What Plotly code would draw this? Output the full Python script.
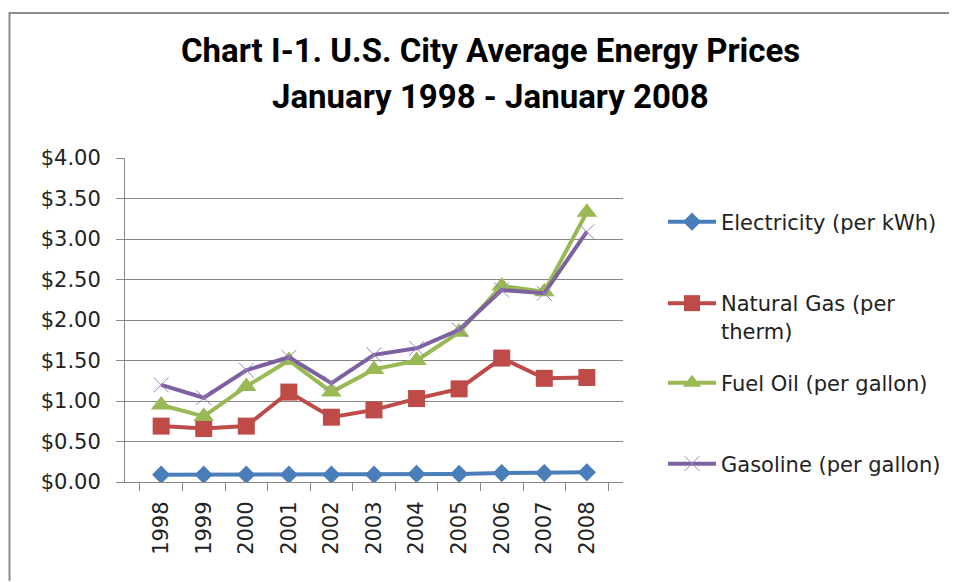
import plotly.graph_objects as go

years = ["1998", "1999", "2000", "2001", "2002", "2003", "2004", "2005", "2006", "2007", "2008"]
electricity = [0.09, 0.09, 0.09, 0.09, 0.09, 0.09, 0.10, 0.10, 0.11, 0.11, 0.12]
natural_gas = [0.69, 0.66, 0.69, 1.11, 0.80, 0.89, 1.03, 1.15, 1.53, 1.28, 1.29]
fuel_oil = [0.95, 0.81, 1.18, 1.50, 1.11, 1.39, 1.50, 1.85, 2.42, 2.35, 3.33]
gasoline = [1.20, 1.04, 1.38, 1.54, 1.22, 1.57, 1.65, 1.88, 2.37, 2.33, 3.09]

names = ["Electricity (per kWh)", "Natural Gas (per<br>therm)", "Fuel Oil (per gallon)", "Gasoline (per gallon)"]
title_lines = ["Chart I-1. U.S. City Average Energy Prices", "January 1998 - January 2008"]

TITLE_FONT = "Roboto, Lato, sans-serif"
TEXT_FONT = "DejaVu Sans, sans-serif"
GRID = "#868686"

# page body has an 8px margin; the figure starts at (8, 8) on screen.
OFF = 8
W, H = 957 - OFF, 582 - OFF
P_LEFT, P_RIGHT, P_TOP, P_BOTTOM = 125, 623, 158, 482  # screen px of plot area
ML = P_LEFT - OFF
MR = W - (P_RIGHT - OFF)
MT = P_TOP - OFF
MB = H - (P_BOTTOM - OFF)
PW = P_RIGHT - P_LEFT
PH = P_BOTTOM - P_TOP

def sx(px):
    return (px - P_LEFT) / PW

def sy(py):
    return (P_BOTTOM - py) / PH

fig = go.Figure()

fig.add_trace(go.Scatter(
    x=years, y=electricity, name=names[0], mode="lines+markers",
    line=dict(color="#4A7EBB", width=4),
    marker=dict(symbol="diamond", size=14, color="#4A7EBB"),
    legend="legend",
))
fig.add_trace(go.Scatter(
    x=years, y=natural_gas, name=names[1], mode="lines+markers",
    line=dict(color="#BE4B48", width=4),
    marker=dict(symbol="square", size=17, color="#BE4B48"),
    legend="legend2",
))
fig.add_trace(go.Scatter(
    x=years, y=fuel_oil, name=names[2], mode="lines+markers",
    line=dict(color="#98B954", width=4),
    marker=dict(symbol="triangle-up", size=18, color="#98B954"),
    legend="legend3",
))
fig.add_trace(go.Scatter(
    x=years, y=gasoline, name=names[3], mode="lines+markers",
    line=dict(color="#7D60A0", width=4),
    marker=dict(symbol="x-thin", size=15, color="#7D60A0",
                line=dict(color="#9A84C0", width=1)),
    legend="legend4",
))

leg_common = dict(
    xanchor="left", font=dict(family=TEXT_FONT, size=21, color="#222222"),
    bgcolor="rgba(0,0,0,0)", borderwidth=0, itemwidth=48, valign="top",
)
lx = sx(663)

bx0, by0 = sx(9.5), sy(581)
bx1, by1 = sx(956), sy(13)
border_path = f"M {bx0},{by0} L {bx0},{by1} L {bx1},{by1}"

fig.update_layout(
    width=W, height=H, showlegend=True,
    margin=dict(l=ML, r=MR, t=MT, b=MB, autoexpand=False),
    paper_bgcolor="white", plot_bgcolor="white",
    xaxis=dict(
        type="category", showline=True, linecolor=GRID, linewidth=1,
        ticks="outside", ticklen=8, tickcolor=GRID, tickson="boundaries",
        tickangle=-90, showgrid=False, automargin=False, ticklabelstandoff=10,
        tickfont=dict(family=TEXT_FONT, size=21, color="#222222"),
    ),
    yaxis=dict(
        range=[0, 4], dtick=0.5, tickprefix="$", tickformat=".2f",
        showline=True, linecolor=GRID, linewidth=1, automargin=False,
        ticks="outside", ticklen=8, tickcolor=GRID, ticklabelstandoff=11,
        showgrid=True, gridcolor=GRID, gridwidth=1, zeroline=False,
        tickfont=dict(family=TEXT_FONT, size=21, color="#222222"),
    ),
    legend=dict(x=lx, y=sy(222), yanchor="middle", **leg_common),
    legend2=dict(x=lx, y=sy(317), yanchor="middle", **leg_common),
    legend3=dict(x=lx, y=sy(383), yanchor="middle", **leg_common),
    legend4=dict(x=lx, y=sy(464), yanchor="middle", **leg_common),
    annotations=[
        dict(text=title_lines[0], xref="paper", yref="paper",
             x=sx(490), y=sy(50), xanchor="center", yanchor="middle",
             showarrow=False, font=dict(family=TITLE_FONT, size=33, color="#000000", weight="bold")),
        dict(text=title_lines[1], xref="paper", yref="paper",
             x=sx(490), y=sy(96), xanchor="center", yanchor="middle",
             showarrow=False, font=dict(family=TITLE_FONT, size=33, color="#000000", weight="bold")),
    ],
    shapes=[dict(
        type="path", xref="paper", yref="paper", path=border_path,
        line=dict(color="#8C8C8C", width=2), layer="below",
    )],
)

fig.write_html("out.html")
